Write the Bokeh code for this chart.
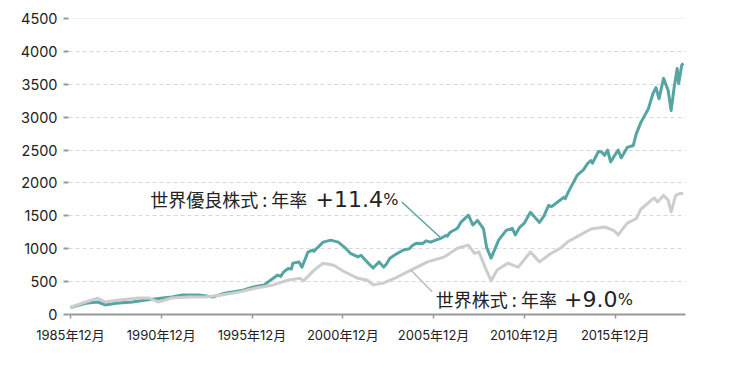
from bokeh.plotting import figure
from bokeh.models import Label, Span, FixedTicker
from bokeh.embed import file_html
from bokeh.resources import INLINE

# ---- data (months since 1985-12) ----
teal_months = [0,10,18,23,30,41,50,61,67,74,
               85,94,102,114,121,128,134,137,139,141,
               144,146,147,151,153,157,160,161,163,167,
               172,177,181,185,190,192,196,200,204,207,
               209,211,214,220,224,226,229,233,235,238,
               245,248,249,251,255,256,258,263,266,269,
               273,275,278,283,288,292,294,297,300,304,
               310,313,316,318,322,326,327,329,335,339,
               342,344,345,347,349,351,353,355,357,362,
               364,368,372,374,377,382,385,387,389,392,
               395,397,399,401,402,404,405]
teal_values = [105,170,190,145,170,190,220,250,265,295,
               295,265,325,370,420,450,550,600,580,650,
               700,690,780,800,720,950,980,960,1010,1100,
               1130,1100,1025,930,875,900,800,706,800,720,
               770,850,900,980,1000,1050,1085,1080,1120,1100,
               1160,1200,1190,1250,1300,1320,1400,1510,1360,1430,
               1300,1025,857,1130,1280,1310,1210,1330,1390,1555,
               1400,1500,1660,1640,1710,1780,1760,1860,2120,2200,
               2300,2340,2300,2390,2480,2470,2420,2500,2320,2500,
               2380,2540,2570,2750,2920,3130,3360,3450,3280,3590,
               3410,3100,3450,3740,3510,3790,3820]

gray_months = [0,10,18,23,32,45,52,58,67,78,89,100,111,122,134,144,152,154,161,167,174,181,190,196,200,207,216,225,236,247,256,263,267,270,274,278,282,289,296,304,310,317,324,329,337,344,353,359,362,368,374,377,384,386,388,392,395,397,400,403,405]
gray_values = [110,190,250,190,220,250,250,190,250,265,265,295,340,400,450,525,550,510,675,780,750,650,550,525,450,480,570,675,800,875,1010,1055,930,950,720,510,675,780,720,950,800,920,1010,1110,1210,1300,1330,1280,1210,1390,1460,1600,1740,1770,1710,1810,1740,1560,1810,1840,1840]

x_tick_months = [0, 60, 120, 180, 240, 300, 360]
x_tick_labels = ["1985年12月", "1990年12月", "1995年12月", "2000年12月",
                 "2005年12月", "2010年12月", "2015年12月"]
y_ticks = [0, 500, 1000, 1500, 2000, 2500, 3000, 3500, 4000, 4500]

teal_name = "世界優良株式 : 年率"
teal_rate = "+11.4"
gray_name = "世界株式 : 年率"
gray_rate = "+9.0"

NUMFONT = "Inter, Noto Sans CJK JP"
BIGFONT = "DejaVu Sans"
JPFONT = "Noto Sans CJK JP"
TEAL = "#55a5a2"
GRAY = "#cdcdcd"
TXT = "#222222"

p = figure(width=732, height=362, output_backend="svg", toolbar_location=None,
           x_range=(-1.3, 406.5), y_range=(0, 4500),
           min_border_left=68, min_border_right=47, min_border_top=18,
           min_border_bottom=48)
p.outline_line_color = None
p.background_fill_color = "white"

p.xgrid.grid_line_color = None
p.ygrid.ticker = FixedTicker(ticks=y_ticks)
p.ygrid.grid_line_color = "#d8d8d8"
p.ygrid.grid_line_dash = "4 3"
p.ygrid.grid_line_width = 1

p.add_layout(Span(location=4500, dimension="width", line_color="#e6e6e6", line_width=1))

p.yaxis.ticker = FixedTicker(ticks=y_ticks)
p.yaxis.axis_line_color = None
p.yaxis.major_tick_line_color = "#999999"
p.yaxis.major_tick_line_width = 2
p.yaxis.major_tick_out = 5
p.yaxis.major_tick_in = 0
p.yaxis.minor_tick_line_color = None
p.yaxis.major_label_standoff = 6
p.yaxis.major_label_text_font = NUMFONT
p.yaxis.major_label_text_font_size = "14.5px"
p.yaxis.major_label_text_color = TXT

p.xaxis.ticker = FixedTicker(ticks=x_tick_months)
p.xaxis.major_label_overrides = {m: l for m, l in zip(x_tick_months, x_tick_labels)}
p.xaxis.axis_line_color = "#999999"
p.xaxis.axis_line_width = 2
p.xaxis.major_tick_line_color = "#999999"
p.xaxis.major_tick_line_width = 1.5
p.xaxis.major_tick_out = 4
p.xaxis.major_tick_in = 0
p.xaxis.minor_tick_line_color = None
p.xaxis.major_label_standoff = 8
p.xaxis.major_label_text_font = NUMFONT
p.xaxis.major_label_text_font_size = "13px"
p.xaxis.major_label_text_color = TXT

p.line(teal_months, teal_values, line_color=TEAL, line_width=3, line_join="round")
p.line(gray_months, gray_values, line_color=GRAY, line_width=3, line_join="round")

# leader lines from the series to the labels
ti = teal_months.index(245)
p.segment(x0=[teal_months[ti]], y0=[teal_values[ti]], x1=[219], y1=[1710],
          line_color=TEAL, line_width=1.5)
gi = gray_months.index(225)
p.segment(x0=[gray_months[gi]], y0=[gray_values[gi]], x1=[239], y1=[345],
          line_color="#bbbbbb", line_width=1.5)

def lab(x, y, t, font, size, align):
    p.add_layout(Label(x=x, y=y, text=t, text_font=font, text_font_size=size,
                       text_color=TXT, text_align=align, text_baseline="alphabetic"))

lab(156.5, 1750, teal_name, JPFONT, "18px", "right")
lab(206.5, 1750, teal_rate, BIGFONT, "22px", "right")
lab(206.8, 1750, "%", BIGFONT, "16px", "left")

lab(321.5, 230, gray_name, JPFONT, "18px", "right")
lab(361.5, 230, gray_rate, BIGFONT, "22px", "right")
lab(361.8, 230, "%", BIGFONT, "16px", "left")

open("out.html", "w").write(file_html(p, INLINE))
